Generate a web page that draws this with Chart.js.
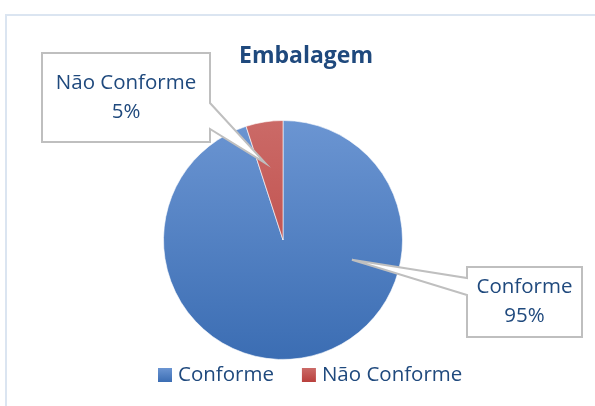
<!DOCTYPE html>
<html>
<head>
<meta charset="utf-8">
<script src="https://cdn.jsdelivr.net/npm/chart.js@4.4.1/dist/chart.umd.min.js"></script>
<style>
  html, body { margin: 0; padding: 0; background: #fff; }
  #wrap { width: 595px; height: 406px; position: relative; }
</style>
</head>
<body>
<div id="wrap"><canvas id="pieEmbalagem" width="595" height="406"></canvas></div>
<script>
const chartTitle = 'Embalagem'
const categorias = ['Conforme', 'Não Conforme']
const valores = [95, 5]

const FONT = '"Open Sans", sans-serif'
const TEXT_COLOR = '#1f497d'
const topColors = ['#6b95d2', '#cb6a67']
const bottomColors = ['#3b6db3', '#b9403d']

// callout boxes (annotation layout), tip given as angle from top (deg) and fraction of radius
const callouts = [
    { box: [467, 267, 582, 337], base: [278, 295], side: 'left', tipAngle: 106, tipFrac: 0.6 },
    { box: [42, 53, 210, 142], base: [103, 129], side: 'right', tipAngle: -13, tipFrac: 0.66 }
]

function sliceGradient(ctx, i) {
    const area = ctx.chart.chartArea
    if (!area) return topColors[i]
    const g = ctx.chart.ctx.createLinearGradient(0, area.top, 0, area.bottom)
    g.addColorStop(0, topColors[i])
    g.addColorStop(1, bottomColors[i])
    return g
}

const decorPlugin = {
    id: 'decor',
    beforeDraw(chart) {
        const c = chart.ctx
        c.save()
        c.strokeStyle = '#dbe5f1'
        c.lineWidth = 2
        c.strokeRect(6, 15, 700, 500)
        c.restore()
    },
    afterDraw(chart) {
        const c = chart.ctx
        const meta = chart.getDatasetMeta(0)
        const arc0 = meta.data[0]
        const cx = arc0.x, cy = arc0.y, r = arc0.outerRadius
        const total = valores.reduce((a, b) => a + b, 0)

        c.save()
        // title
        c.fillStyle = TEXT_COLOR
        c.font = 'bold 23px ' + FONT
        c.textAlign = 'center'
        c.textBaseline = 'alphabetic'
        c.fillText(chartTitle, 306, 63)

        // callouts
        callouts.forEach((co, i) => {
            const [x1, y1, x2, y2] = co.box
            const a = co.tipAngle * Math.PI / 180
            const tx = cx + Math.sin(a) * r * co.tipFrac
            const ty = cy - Math.cos(a) * r * co.tipFrac
            c.beginPath()
            c.moveTo(x1, y1)
            c.lineTo(x2, y1)
            if (co.side === 'right') {
                c.lineTo(x2, co.base[0])
                c.lineTo(tx, ty)
                c.lineTo(x2, co.base[1])
                c.lineTo(x2, y2)
                c.lineTo(x1, y2)
            } else {
                c.lineTo(x2, y2)
                c.lineTo(x1, y2)
                c.lineTo(x1, co.base[1])
                c.lineTo(tx, ty)
                c.lineTo(x1, co.base[0])
            }
            c.closePath()
            c.fillStyle = '#ffffff'
            c.fill()
            c.strokeStyle = '#bfbfbf'
            c.lineWidth = 2
            c.stroke()

            const pct = Math.round(valores[i] / total * 100) + '%'
            const mx = (x1 + x2) / 2, my = (y1 + y2) / 2
            c.fillStyle = TEXT_COLOR
            c.font = '20.5px ' + FONT
            c.textAlign = 'center'
            c.textBaseline = 'middle'
            c.fillText(categorias[i], mx, my - 14.5)
            c.fillText(pct, mx, my + 14.5)
        })

        // legend
        c.font = '20.5px ' + FONT
        c.textAlign = 'left'
        c.textBaseline = 'alphabetic'
        let lx = 158
        const ly = 368
        categorias.forEach((name, i) => {
            const g = c.createLinearGradient(0, ly, 0, ly + 14)
            g.addColorStop(0, topColors[i])
            g.addColorStop(1, bottomColors[i])
            c.fillStyle = g
            c.fillRect(lx, ly, 14, 14)
            c.fillStyle = TEXT_COLOR
            c.fillText(name, lx + 20, 381)
            lx += 20 + c.measureText(name).width + 28
        })
        c.restore()
    }
}

new Chart(document.getElementById('pieEmbalagem'), {
    type: 'pie',
    data: {
        labels: categorias,
        datasets: [{
            data: valores,
            backgroundColor: ctx => sliceGradient(ctx, ctx.dataIndex),
            borderColor: 'rgba(255,255,255,0.6)',
            borderWidth: 1
        }]
    },
    options: {
        responsive: false,
        animation: false,
        layout: { padding: { left: 163, right: 192, top: 120, bottom: 46 } },
        plugins: {
            legend: { display: false },
            title: { display: false },
            tooltip: { enabled: false }
        }
    },
    plugins: [decorPlugin]
});
</script>
</body>
</html>
